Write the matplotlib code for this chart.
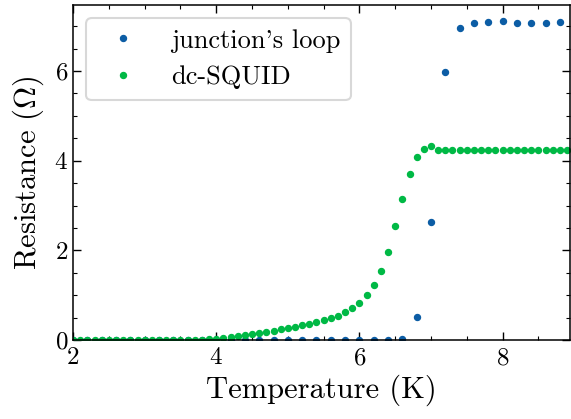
import numpy as np
import matplotlib
matplotlib.use("Agg")
import matplotlib.pyplot as plt
from matplotlib.ticker import MultipleLocator

# donnees
T_loop = [2.0, 2.2, 2.4, 2.6, 2.8, 3.0, 3.2, 3.4, 3.6, 3.8, 4.0, 4.2,
          4.4, 4.6, 4.8, 5.0, 5.2, 5.4, 5.6, 5.8, 6.0, 6.2, 6.4, 6.6,
          6.8, 7.0, 7.2, 7.4, 7.6, 7.8, 8.0, 8.2, 8.4, 8.6, 8.8]
R_loop = [0, 0, 0, 0, 0, 0, 0, 0, 0, 0, 0, 0,
          0, 0, 0, 0, 0, 0, 0, 0, 0, 0, 0, 0.03,
          0.52, 2.63, 5.97, 6.95, 7.06, 7.09, 7.11, 7.08, 7.08, 7.07, 7.09]

T_squid = [2.0, 2.1, 2.2, 2.3, 2.4, 2.5, 2.6, 2.7, 2.8, 2.9,
           3.0, 3.1, 3.2, 3.3, 3.4, 3.5, 3.6, 3.7, 3.8, 3.9,
           4.0, 4.1, 4.2, 4.3, 4.4, 4.5, 4.6, 4.7, 4.8, 4.9,
           5.0, 5.1, 5.2, 5.3, 5.4, 5.5, 5.6, 5.7, 5.8, 5.9,
           6.0, 6.1, 6.2, 6.3, 6.4, 6.5, 6.6, 6.7, 6.8, 6.9,
           7.0, 7.1, 7.2, 7.3, 7.4, 7.5, 7.6, 7.7, 7.8, 7.9,
           8.0, 8.1, 8.2, 8.3, 8.4, 8.5, 8.6, 8.7, 8.8, 8.9]
R_squid = [0.0, 0.0, 0.0, 0.0, 0.0, 0.0, 0.0, 0.0, 0.0, 0.0,
           0.0, 0.0, 0.0, 0.0, 0.0, 0.005, 0.01, 0.01, 0.015, 0.02,
           0.03, 0.05, 0.07, 0.09, 0.11, 0.14, 0.16, 0.19, 0.21, 0.24,
           0.27, 0.30, 0.33, 0.37, 0.41, 0.45, 0.49, 0.54, 0.62, 0.71,
           0.84, 1.00, 1.22, 1.55, 1.96, 2.54, 3.15, 3.70, 4.09, 4.27,
           4.32, 4.25, 4.24, 4.24, 4.24, 4.24, 4.24, 4.24, 4.24, 4.24,
           4.24, 4.24, 4.24, 4.24, 4.24, 4.24, 4.24, 4.24, 4.24, 4.24]

plt.rcParams.update({
    "font.family": "serif",
    "font.serif": ["cmr10"],
    "mathtext.fontset": "cm",
    "axes.formatter.use_mathtext": True,
    "axes.linewidth": 1.1,
    "xtick.direction": "in",
    "ytick.direction": "in",
    "xtick.top": True,
    "ytick.right": True,
    "xtick.major.size": 6,
    "ytick.major.size": 6,
    "xtick.minor.size": 3,
    "ytick.minor.size": 3,
    "xtick.major.width": 1.0,
    "ytick.major.width": 1.0,
    "xtick.minor.width": 0.8,
    "ytick.minor.width": 0.8,
})

fig = plt.figure(figsize=(5.71, 4.19), dpi=100)
ax = fig.add_axes([0.128, 0.188, 0.87, 0.8])

ax.plot(T_loop, R_loop, "o", ls="none", ms=4.3, color="#0C5DA5",
        label="junction's loop")
ax.plot(T_squid, R_squid, "o", ls="none", ms=4.3, color="#00B945",
        label="dc-SQUID")

ax.set_xlim(2, 8.94)
ax.set_ylim(0, 7.47)
ax.xaxis.set_major_locator(MultipleLocator(2))
ax.xaxis.set_minor_locator(MultipleLocator(0.5))
ax.yaxis.set_major_locator(MultipleLocator(2))
ax.yaxis.set_minor_locator(MultipleLocator(0.5))
ax.tick_params(labelsize=18)
ax.tick_params(axis="x", pad=5)

ax.set_xlabel("Temperature (K)", fontsize=22, labelpad=4)
ax.set_ylabel(r"Resistance ($\Omega$)", fontsize=22, labelpad=6)

leg = ax.legend(loc="upper left", fontsize=19, frameon=True, fancybox=True,
                borderaxespad=0.5, handletextpad=0.8)
leg.get_frame().set_edgecolor("#d8d8d8")
leg.get_frame().set_linewidth(1.5)
leg.get_frame().set_alpha(1.0)

fig.savefig("out.png", dpi=100)
